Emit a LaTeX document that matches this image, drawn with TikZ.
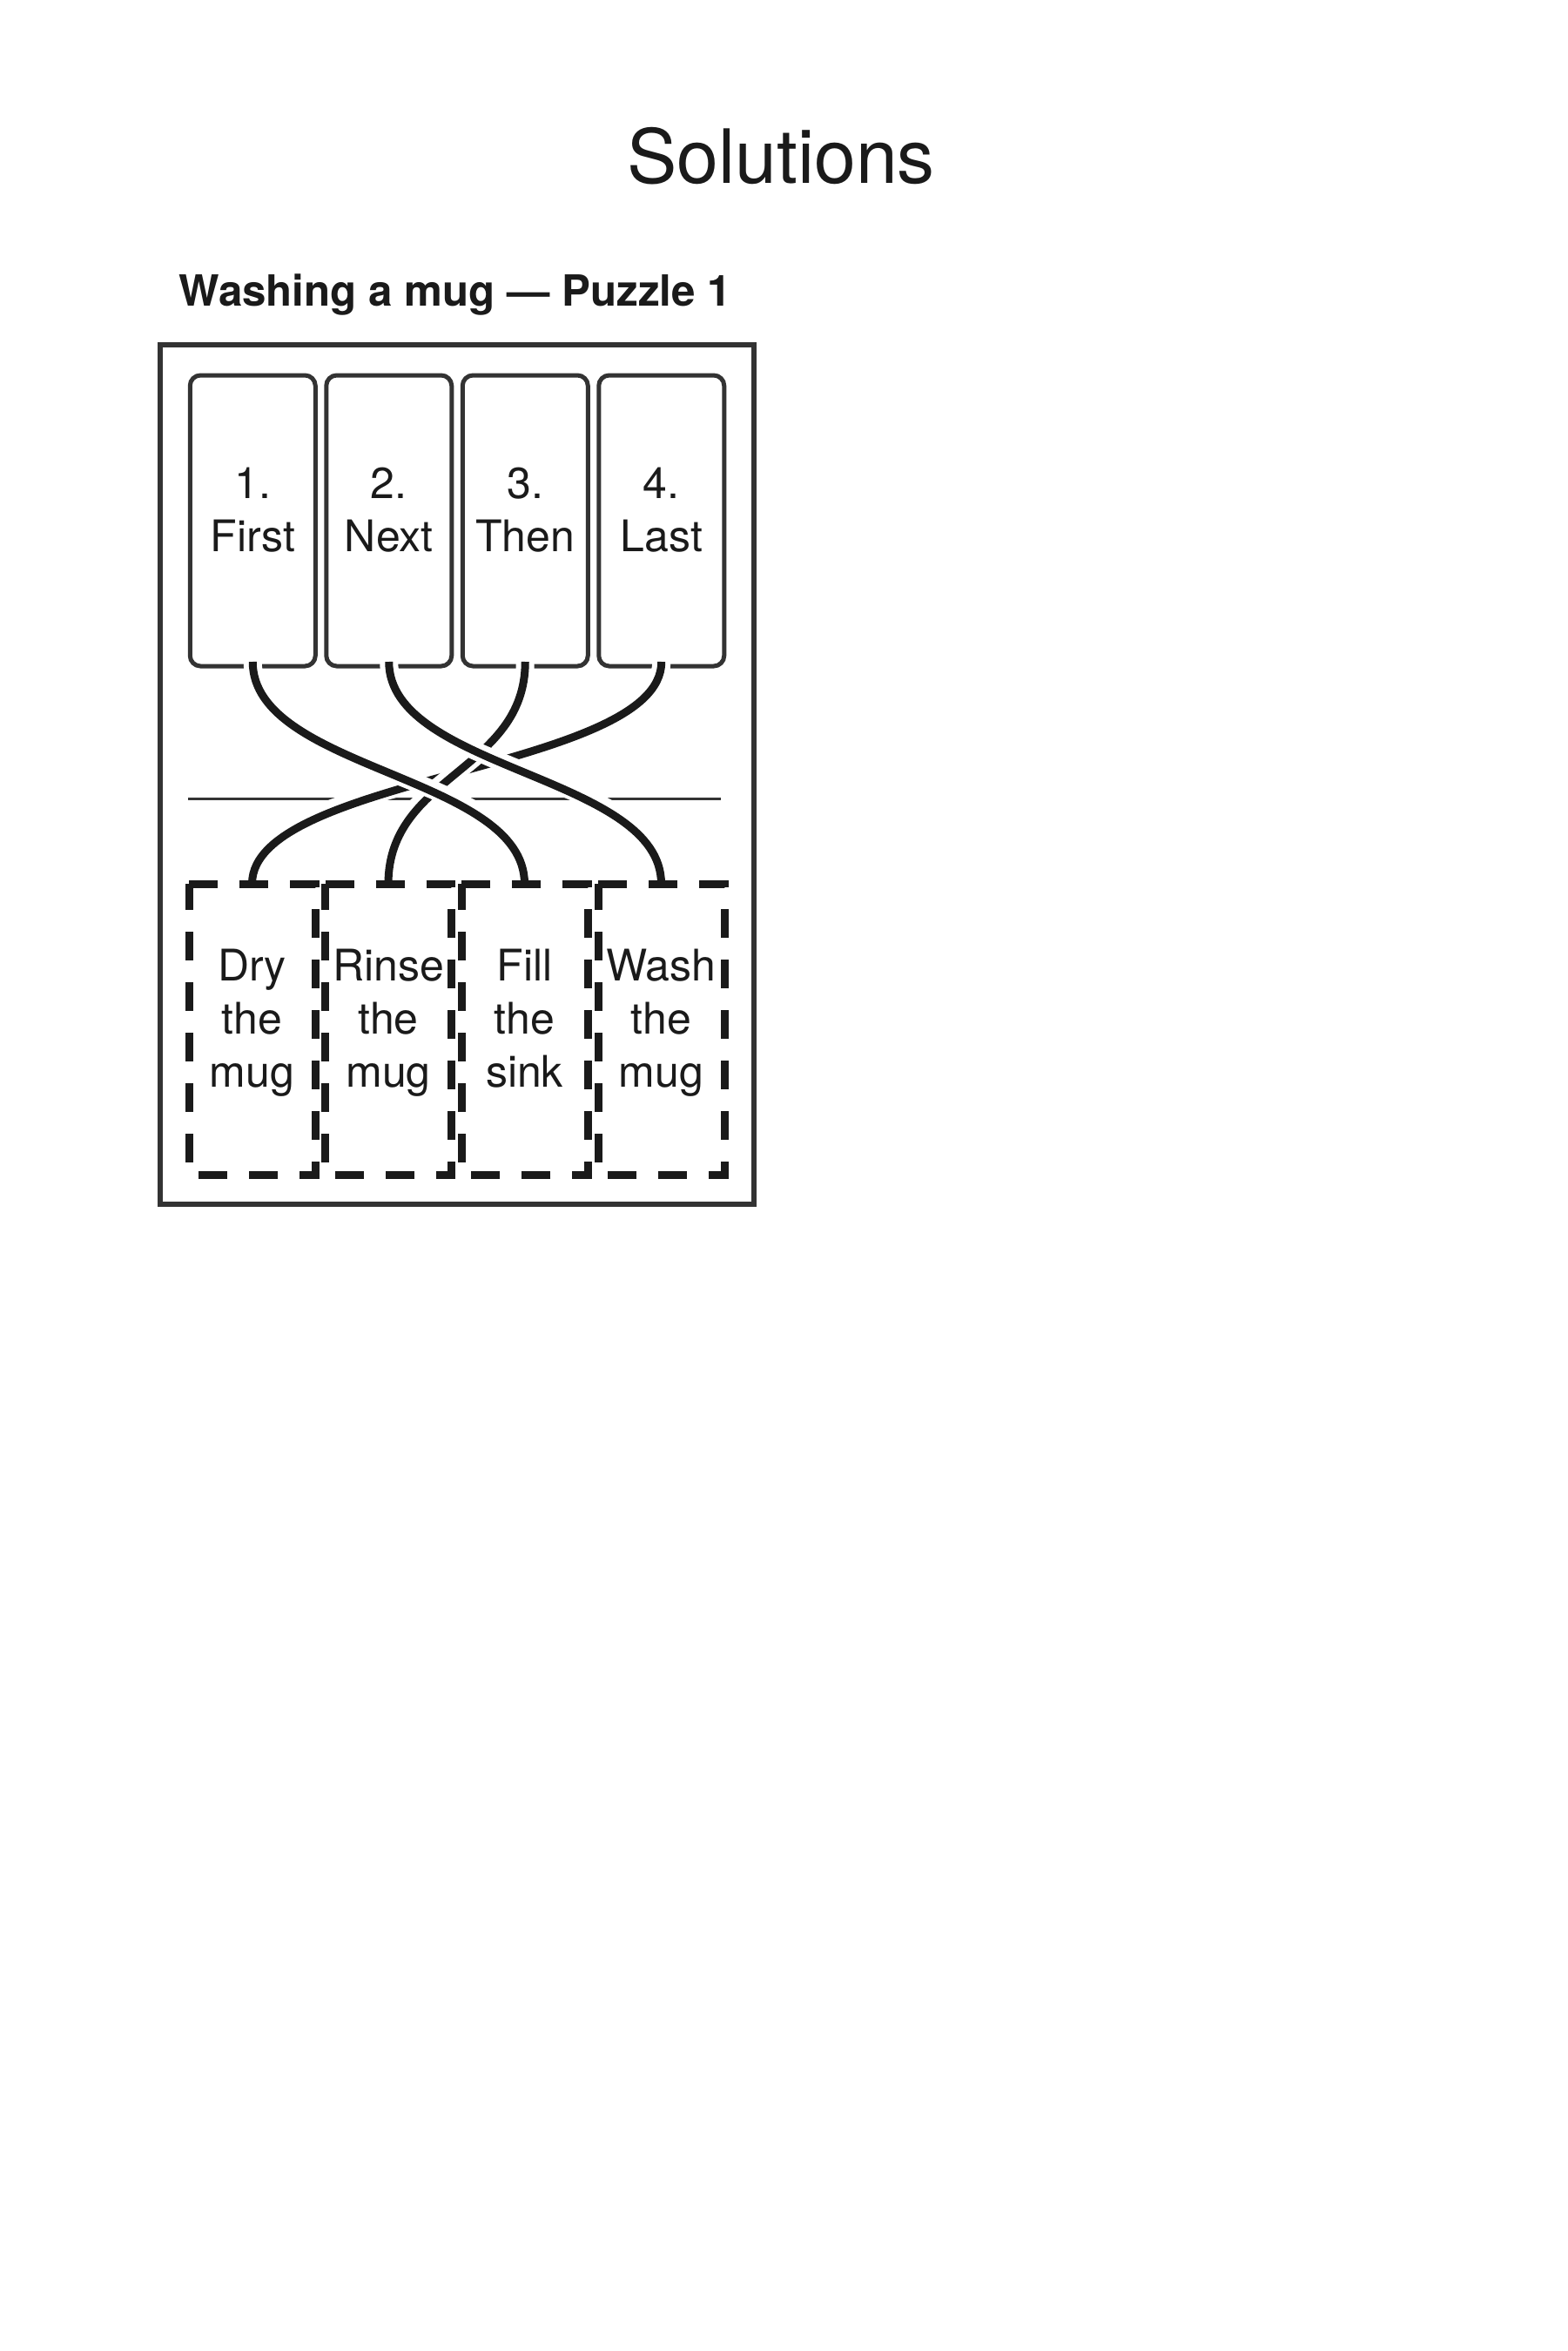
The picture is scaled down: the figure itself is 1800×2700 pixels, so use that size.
\documentclass[tikz,border=0pt]{standalone}
\usepackage{fontspec}
\setmainfont{TeX Gyre Heros}
\usetikzlibrary{arrows.meta}
\definecolor{ink}{HTML}{1A1A1A}
\definecolor{framegray}{HTML}{333333}
\begin{document}
\begin{tikzpicture}[x=1pt,y=1pt,
  topbox/.style={draw=framegray, line width=5pt, rounded corners=12pt, minimum width=144pt, minimum height=334pt, inner sep=0pt, outer sep=0pt},
  slot/.style={minimum width=145pt, minimum height=334pt, inner sep=0pt, outer sep=0pt},
  slotline/.style={draw=ink, line width=9pt, dash pattern=on 33pt off 25pt},
  lbl/.style={font=\fontsize{50}{61}\selectfont, text=ink, align=center, inner sep=0pt},
  halo/.style={draw=white, line width=21pt, shorten >=10pt},
  wire/.style={draw=ink, line width=9pt},
]
\fill[white] (0,0) rectangle (1800,-2700);
\useasboundingbox (0,0) rectangle (1800,-2700);

% headings
\node[font=\fontsize{86}{100}\selectfont, text=ink, inner sep=0pt] (head) at (897,-179) {Solutions};
\node[font=\bfseries\fontsize{49.3}{58}\selectfont, text=ink, inner sep=0pt, anchor=base] (title) at (523,-351) {Washing a mug — Puzzle 1};

% outer frame
\draw[framegray, line width=5.5pt] (184,-396) rectangle (866,-1383);

% top boxes
\node[topbox] (t1) at (290.25,-598) {};
\node[topbox] (t2) at (446.75,-598) {};
\node[topbox] (t3) at (603.25,-598) {};
\node[topbox] (t4) at (759.75,-598) {};
\node[lbl] (t1l) at (290.25,-586) {1.\\First};
\node[lbl] (t2l) at (446.75,-586) {2.\\Next};
\node[lbl] (t3l) at (603.25,-586) {3.\\Then};
\node[lbl] (t4l) at (759.75,-586) {4.\\Last};

% separator
\coordinate (sepL) at (216,-917);
\coordinate (sepR) at (828,-917);
\draw[framegray, line width=3pt] (sepL) -- (sepR);

% bottom slots
\node[slot] (b1) at (289.5,-1182) {};
\node[slot] (b2) at (446,-1182) {};
\node[slot] (b3) at (602.5,-1182) {};
\node[slot] (b4) at (759.5,-1182) {};
\foreach \b in {b1,b2,b3,b4}{
  \draw[slotline] (\b.north west) -- (\b.north east) -- (\b.south east) -- (\b.south west) -- cycle;
}
\node[lbl] (b1l) at (289.5,-1175) {Dry\\the\\mug};
\node[lbl] (b2l) at (446,-1175) {Rinse\\the\\mug};
\node[lbl] (b3l) at (602.5,-1170) {Fill\\the\\sink};
\node[lbl] (b4l) at (759.5,-1175) {Wash\\the\\mug};

% connectors (4 first, 1 on top)
\path[halo] ([yshift=5pt]t4.south) .. controls +(0,-125) and +(0,125) .. (b1.north);
\path[wire] ([yshift=5pt]t4.south) .. controls +(0,-125) and +(0,125) .. (b1.north);
\path[halo] ([yshift=5pt]t3.south) .. controls +(0,-125) and +(0,125) .. (b2.north);
\path[wire] ([yshift=5pt]t3.south) .. controls +(0,-125) and +(0,125) .. (b2.north);
\path[halo] ([yshift=5pt]t2.south) .. controls +(0,-125) and +(0,125) .. (b4.north);
\path[wire] ([yshift=5pt]t2.south) .. controls +(0,-125) and +(0,125) .. (b4.north);
\path[halo] ([yshift=5pt]t1.south) .. controls +(0,-125) and +(0,125) .. (b3.north);
\path[wire] ([yshift=5pt]t1.south) .. controls +(0,-125) and +(0,125) .. (b3.north);
\end{tikzpicture}
\end{document}
